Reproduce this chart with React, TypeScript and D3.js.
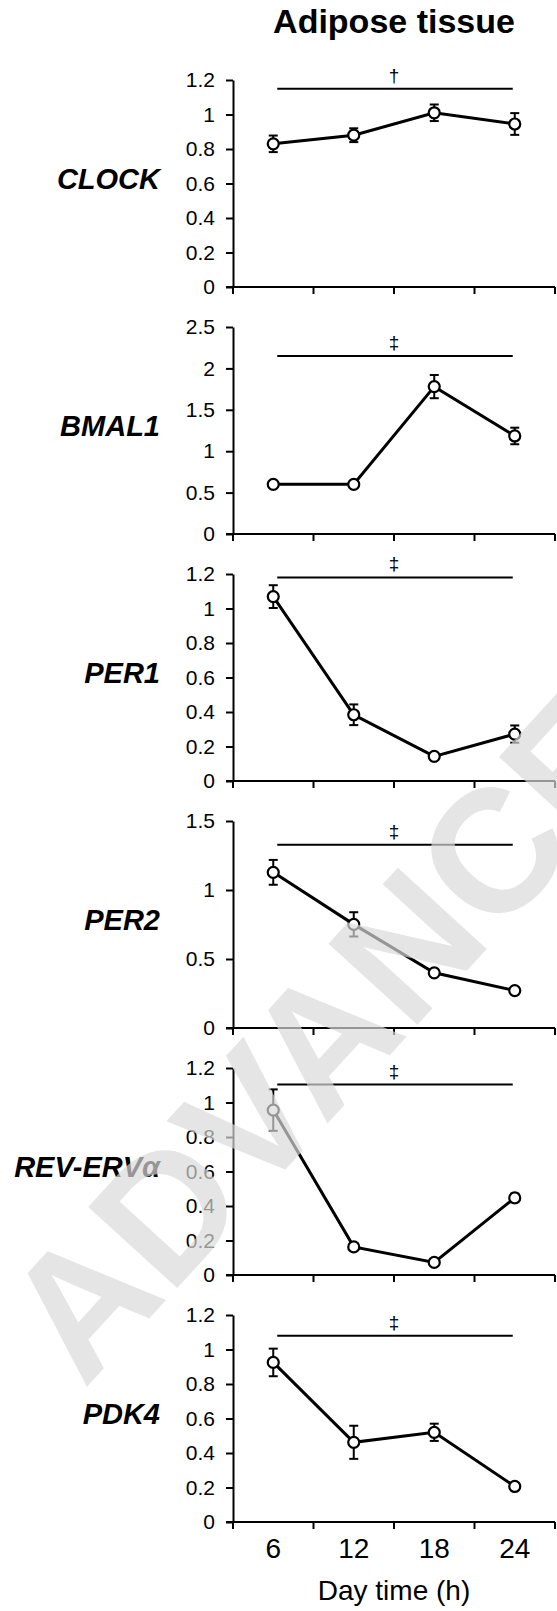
import React, { useEffect, useRef } from "react";
import { select } from "d3";
import * as d3 from "d3";

const hours = [6, 12, 18, 24];
const genes = ["CLOCK", "BMAL1", "PER1", "PER2", "REV-ERVα", "PDK4"];

const clockMean = [0.83, 0.88, 1.01, 0.945];
const clockErr = [0.048, 0.04, 0.048, 0.063];
const bmal1Mean = [0.6, 0.6, 1.78, 1.184];
const bmal1Err = [0.03, 0.03, 0.14, 0.1];
const per1Mean = [1.069, 0.384, 0.143, 0.272];
const per1Err = [0.066, 0.06, 0.012, 0.05];
const per2Mean = [1.128, 0.751, 0.4, 0.271];
const per2Err = [0.09, 0.088, 0.02, 0.02];
const revErbMean = [0.956, 0.163, 0.073, 0.447];
const revErbErr = [0.12, 0.02, 0.015, 0.025];
const pdk4Mean = [0.925, 0.462, 0.52, 0.206];
const pdk4Err = [0.08, 0.096, 0.05, 0.015];

const means = [clockMean, bmal1Mean, per1Mean, per2Mean, revErbMean, pdk4Mean];
const errs = [clockErr, bmal1Err, per1Err, per2Err, revErbErr, pdk4Err];

const yTicks = [
  [0, 0.2, 0.4, 0.6, 0.8, 1, 1.2],
  [0, 0.5, 1, 1.5, 2, 2.5],
  [0, 0.2, 0.4, 0.6, 0.8, 1, 1.2],
  [0, 0.5, 1, 1.5],
  [0, 0.2, 0.4, 0.6, 0.8, 1, 1.2],
  [0, 0.2, 0.4, 0.6, 0.8, 1, 1.2],
];
const sigLevel = [1.15, 2.15, 1.18, 1.327, 1.104, 1.079];
const sigMark = ["†", "‡", "‡", "‡", "‡", "‡"];

const W = 557;
const H = 1611;
const font = "Liberation Sans, Arial, sans-serif";

// layout
const plotL = 233;
const plotR = 555;
const firstZero = 287;
const panelStep = 247;
const plotH = 207;

function App() {
  const svgRef = useRef<SVGSVGElement>(null);

  useEffect(() => {
    const svg = select(svgRef.current);
    svg.selectAll("*").remove();

    const x = d3.scaleBand<number>().domain(hours).range([plotL, plotR]);
    const cx = (h: number) => (x(h) as number) + x.bandwidth() / 2;

    svg
      .append("text")
      .attr("x", (plotL + plotR) / 2)
      .attr("y", 33)
      .attr("text-anchor", "middle")
      .attr("font-family", font)
      .attr("font-weight", "bold")
      .attr("font-size", 34)
      .text("Adipose tissue");

    genes.forEach((gene, i) => {
      const zero = firstZero + i * panelStep;
      const ticks = yTicks[i];
      const y = d3
        .scaleLinear()
        .domain([0, ticks[ticks.length - 1]])
        .range([zero, zero - plotH]);
      const g = svg.append("g");

      // gene name
      g.append("text")
        .attr("x", 160)
        .attr("y", zero - 98)
        .attr("text-anchor", "end")
        .attr("font-family", font)
        .attr("font-weight", "bold")
        .attr("font-style", "italic")
        .attr("font-size", 29)
        .text(gene);

      // y axis
      const ya = g
        .append("g")
        .attr("transform", `translate(${plotL},0)`)
        .call(
          d3
            .axisLeft(y)
            .tickValues(ticks)
            .tickSize(7)
            .tickSizeOuter(0)
            .tickPadding(11)
            .tickFormat((d) => String(d))
        );
      ya.select(".domain").attr("stroke-width", 2);
      ya.selectAll(".tick line").attr("stroke-width", 2);
      ya.selectAll("text").attr("font-family", font).attr("font-size", 21).attr("fill", "#000");

      // x axis, ticks at band edges
      const edges = hours.map((h) => x(h) as number).concat([plotR]);
      g.append("line")
        .attr("x1", plotL - 7)
        .attr("x2", plotR)
        .attr("y1", zero)
        .attr("y2", zero)
        .attr("stroke", "#000")
        .attr("stroke-width", 2);
      g.selectAll(".xt")
        .data(edges)
        .enter()
        .append("line")
        .attr("x1", (d) => d)
        .attr("x2", (d) => d)
        .attr("y1", zero)
        .attr("y2", zero + 7)
        .attr("stroke", "#000")
        .attr("stroke-width", 2);

      if (i === genes.length - 1) {
        g.selectAll(".xl")
          .data(hours)
          .enter()
          .append("text")
          .attr("x", (d) => cx(d))
          .attr("y", zero + 36)
          .attr("text-anchor", "middle")
          .attr("font-family", font)
          .attr("font-size", 28)
          .text((d) => d);
        g.append("text")
          .attr("x", (plotL + plotR) / 2)
          .attr("y", zero + 78)
          .attr("text-anchor", "middle")
          .attr("font-family", font)
          .attr("font-size", 28)
          .text("Day time (h)");
      }

      // significance bar
      const sy = y(sigLevel[i]);
      g.append("line")
        .attr("x1", cx(hours[0]) + 4)
        .attr("x2", cx(hours[hours.length - 1]) - 2)
        .attr("y1", sy)
        .attr("y2", sy)
        .attr("stroke", "#000")
        .attr("stroke-width", 2);
      g.append("text")
        .attr("x", (plotL + plotR) / 2)
        .attr("y", sy - 7)
        .attr("text-anchor", "middle")
        .attr("font-family", font)
        .attr("font-size", 19)
        .text(sigMark[i]);

      const pts = hours.map((h, k) => ({ h, m: means[i][k], e: errs[i][k] }));

      // error bars
      const eb = g.selectAll(".eb").data(pts).enter().append("g");
      eb.append("line")
        .attr("x1", (d) => cx(d.h))
        .attr("x2", (d) => cx(d.h))
        .attr("y1", (d) => y(d.m - d.e))
        .attr("y2", (d) => y(d.m + d.e))
        .attr("stroke", "#000")
        .attr("stroke-width", 2);
      [-1, 1].forEach((s) => {
        eb.append("line")
          .attr("x1", (d) => cx(d.h) - 4.5)
          .attr("x2", (d) => cx(d.h) + 4.5)
          .attr("y1", (d) => y(d.m + s * d.e))
          .attr("y2", (d) => y(d.m + s * d.e))
          .attr("stroke", "#000")
          .attr("stroke-width", 2);
      });

      const line = d3
        .line<{ h: number; m: number }>()
        .x((d) => cx(d.h))
        .y((d) => y(d.m));
      g.append("path")
        .attr("d", line(pts))
        .attr("fill", "none")
        .attr("stroke", "#000")
        .attr("stroke-width", 3);

      g.selectAll(".pt")
        .data(pts)
        .enter()
        .append("circle")
        .attr("cx", (d) => cx(d.h))
        .attr("cy", (d) => y(d.m))
        .attr("r", 5.5)
        .attr("fill", "#fff")
        .attr("stroke", "#000")
        .attr("stroke-width", 2.2);
    });

    // watermark
    svg
      .append("text")
      .attr("transform", "translate(84,1390) rotate(-47.6)")
      .attr("font-family", font)
      .attr("font-weight", "bold")
      .attr("font-size", 175)
      .attr("fill", "#dadada")
      .attr("fill-opacity", 0.69)
      .text("ADVANCE");
  }, []);

  return (
    <svg
      ref={svgRef}
      width={W}
      height={H}
      style={{ position: "absolute", left: 0, top: 0, background: "#fff" }}
    ></svg>
  );
}

export default App;
